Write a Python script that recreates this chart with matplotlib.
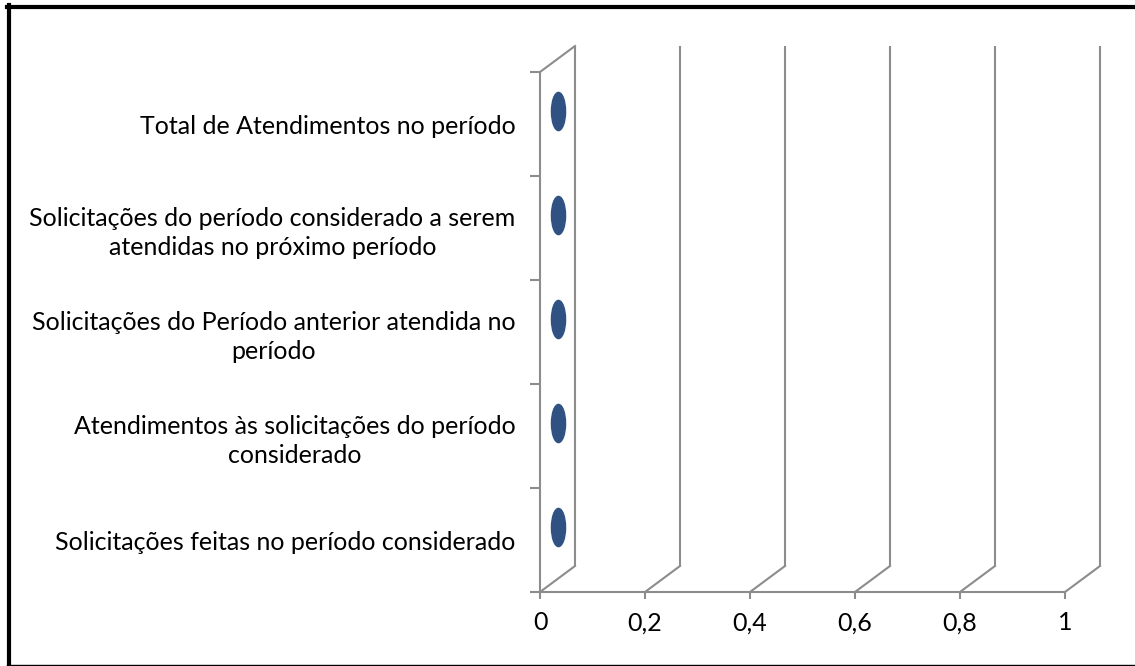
import matplotlib
matplotlib.use("Agg")
import matplotlib.pyplot as plt
import matplotlib.transforms as mtransforms
from matplotlib.lines import Line2D
from matplotlib.path import Path

categorias = [
    "Solicitações feitas no período considerado",
    "Atendimentos às solicitações do período\nconsiderado",
    "Solicitações do Período anterior atendida no\nperíodo",
    "Solicitações do período considerado a serem\natendidas no próximo período",
    "Total de Atendimentos no período",
]
valores = [0, 0, 0, 0, 0]
x_ticks = [0, 0.2, 0.4, 0.6, 0.8, 1.0]
x_labels = ["0", "0,2", "0,4", "0,6", "0,8", "1"]

plt.rcParams['font.family'] = ['Lato', 'DejaVu Sans']

W, H = 1135, 666
fig = plt.figure(figsize=(W / 100, H / 100), dpi=100)
ax = fig.add_axes([540 / W, 1 - 592 / H, 525 / W, 520 / H])

grey = "#8c8c8c"
lw = 1.5
depth_x, depth_y = 35, 26   # 3d depth offset in pixels

back = mtransforms.offset_copy(ax.transData, fig=fig, x=depth_x, y=depth_y, units='dots')
mid = mtransforms.offset_copy(ax.transData, fig=fig, x=depth_x / 2, y=depth_y / 2, units='dots')

n = len(categorias)
y = list(range(n))
ax.set_xlim(0, 1)
ax.set_ylim(-0.5, n - 0.5)

# back wall / floor grid
for v in x_ticks:
    ax.plot([v, v], [-0.5, n - 0.5], color=grey, lw=lw, transform=back, clip_on=False,
            solid_capstyle='butt')
    # floor diagonal
    x0, y0 = ax.transData.transform((v, -0.5))
    ax.add_line(Line2D([x0, x0 + depth_x], [y0, y0 + depth_y], color=grey, lw=lw,
                       transform=None, clip_on=False))
# top diagonal on the side wall
x0, y0 = ax.transData.transform((0, n - 0.5))
ax.add_line(Line2D([x0, x0 + depth_x], [y0, y0 + depth_y], color=grey, lw=lw,
                   transform=None, clip_on=False))

# zero-height cylinders -> ellipses
ell = Path.unit_circle().transformed(mtransforms.Affine2D().scale(0.37, 1.0))
ax.plot(valores, y, linestyle='none', marker=ell, markersize=27.5,
        color="#2f5283", markeredgecolor="#2f5283", transform=mid, clip_on=False)

for s in ['top', 'right']:
    ax.spines[s].set_visible(False)
for s in ['left', 'bottom']:
    ax.spines[s].set_color(grey)
    ax.spines[s].set_linewidth(lw)

ax.set_xticks(x_ticks)
ax.set_xticklabels(x_labels)
ax.tick_params(axis='x', length=5, width=lw, color=grey, pad=9, labelsize=18)

ax.set_yticks(y)
ax.set_yticklabels(categorias)
for t in ax.get_yticklabels():
    t.set_multialignment('center')
    t.set_linespacing(1.3)
ax.set_yticks([i - 0.5 for i in range(n + 1)], minor=True)
ax.tick_params(axis='y', which='major', length=0, pad=17.5, labelsize=18)
ax.tick_params(axis='y', which='minor', length=7, width=lw, color=grey)

# outer border (left/top thick, bottom thin)
fig.add_artist(Line2D([8.5 / W, 8.5 / W], [1 - 5 / H, 1 - 665 / H], color='black', lw=3,
                      transform=fig.transFigure))
fig.add_artist(Line2D([7 / W, 1], [1 - 7 / H, 1 - 7 / H], color='black', lw=3,
                      transform=fig.transFigure))
fig.add_artist(Line2D([7 / W, 1], [1 - 664.5 / H, 1 - 664.5 / H], color='black', lw=1,
                      transform=fig.transFigure))

fig.savefig("out.png", dpi=100)
